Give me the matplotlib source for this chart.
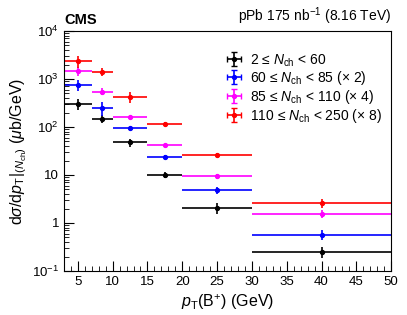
import matplotlib
matplotlib.use("Agg")
import matplotlib.pyplot as plt
import numpy as np
from matplotlib.ticker import LogLocator, MultipleLocator, FixedLocator, NullFormatter

plt.rcParams['font.family'] = ['Liberation Sans', 'DejaVu Sans']
plt.rcParams['mathtext.fontset'] = 'custom'
plt.rcParams['mathtext.rm'] = 'Liberation Sans'
plt.rcParams['mathtext.it'] = 'Liberation Sans:italic'
plt.rcParams['mathtext.bf'] = 'Liberation Sans:bold'

# bins
bin_lo = [3, 7, 10, 15, 20, 30]
bin_hi = [7, 10, 15, 20, 30, 50]
centers = [5, 8.5, 12.5, 17.5, 25, 40]

labels = [r"2 ≤ $N_{\rm ch}$ < 60",
          r"60 ≤ $N_{\rm ch}$ < 85 (× 2)",
          r"85 ≤ $N_{\rm ch}$ < 110 (× 4)",
          r"110 ≤ $N_{\rm ch}$ < 250 (× 8)"]
colors = ['black', '#0000ff', '#ff00ff', '#ff0000']

y_black = [306, 149, 48, 10, 2.05, 0.25]
e_black = [80, 30, 9, 1.5, 0.5, 0.06]
y_blue = [763, 252, 93.5, 23.7, 4.8, 0.57]
e_blue = [190, 85, 7, 2, 0.7, 0.13]
y_mag = [1460, 545, 161, 42, 9.4, 1.56]
e_mag = [300, 90, 10, 3, 1.1, 0.3]
y_red = [2340, 1420, 427, 117, 26.5, 2.57]
e_red = [650, 280, 110, 8, 2.5, 0.55]

series = [(y_black, e_black), (y_blue, e_blue), (y_mag, e_mag), (y_red, e_red)]

fig = plt.figure(figsize=(4.07, 3.15), dpi=100)
ax = fig.add_axes([0.157, 0.1397, 0.804, 0.762])

c = np.array(centers)
xerr = [c - np.array(bin_lo), np.array(bin_hi) - c]
handles = []
for (yv, ev), col, lab in zip(series, colors, labels):
    ax.errorbar(centers, yv, xerr=xerr, yerr=ev, fmt='o', color=col,
                ms=2.8, elinewidth=1.2, capsize=0)
    # legend proxy with small caps (as in the reference legend)
    h = ax.errorbar([np.nan], [np.nan], xerr=[1], yerr=[1], fmt='o', color=col,
                    ms=2.8, elinewidth=1.2, capsize=2, capthick=1.0)
    handles.append(h)

ax.set_xlim(3, 50)
ax.set_yscale('log')
ax.set_ylim(0.1, 1e4)

ax.xaxis.set_major_locator(FixedLocator([5, 10, 15, 20, 25, 30, 35, 40, 45, 50]))
ax.xaxis.set_minor_locator(MultipleLocator(1))
ax.yaxis.set_major_locator(FixedLocator([0.1, 1, 10, 100, 1000, 10000]))
ax.yaxis.set_minor_locator(LogLocator(base=10, subs=np.arange(2, 10)))
ax.yaxis.set_minor_formatter(NullFormatter())
ax.set_yticklabels([r"$10^{-1}$", "1", "10", r"$10^{2}$", r"$10^{3}$", r"$10^{4}$"])

ax.tick_params(axis='both', which='major', direction='in', length=7, labelsize=9.5)
ax.tick_params(axis='both', which='minor', direction='in', length=3.5)
ax.tick_params(axis='y', which='both', right=False)
ax.tick_params(axis='x', which='both', top=False)

ax.set_xlabel(r"$p_{\rm T}$(B$^{+}$) (GeV)", fontsize=11.5, labelpad=3)
ax.set_ylabel(r"d$\sigma$/d$p_{\rm T}|_{(N_{\rm ch})}$ ($\mu$b/GeV)", fontsize=11.5, labelpad=2)

for sp in ax.spines.values():
    sp.set_linewidth(0.8)

fig.text(0.157, 0.915, "CMS", fontsize=10.5, fontweight='bold', ha='left', va='bottom')
fig.text(0.961, 0.915, r"pPb 175 nb$^{-1}$ (8.16 TeV)", fontsize=10, ha='right', va='bottom')

leg = ax.legend(handles=handles, labels=labels, loc='upper left',
                bbox_to_anchor=(0.47, 0.935), frameon=False, fontsize=10,
                handlelength=1.6, handletextpad=0.3, labelspacing=0.05,
                borderaxespad=0)

fig.savefig("out.png", dpi=100)
